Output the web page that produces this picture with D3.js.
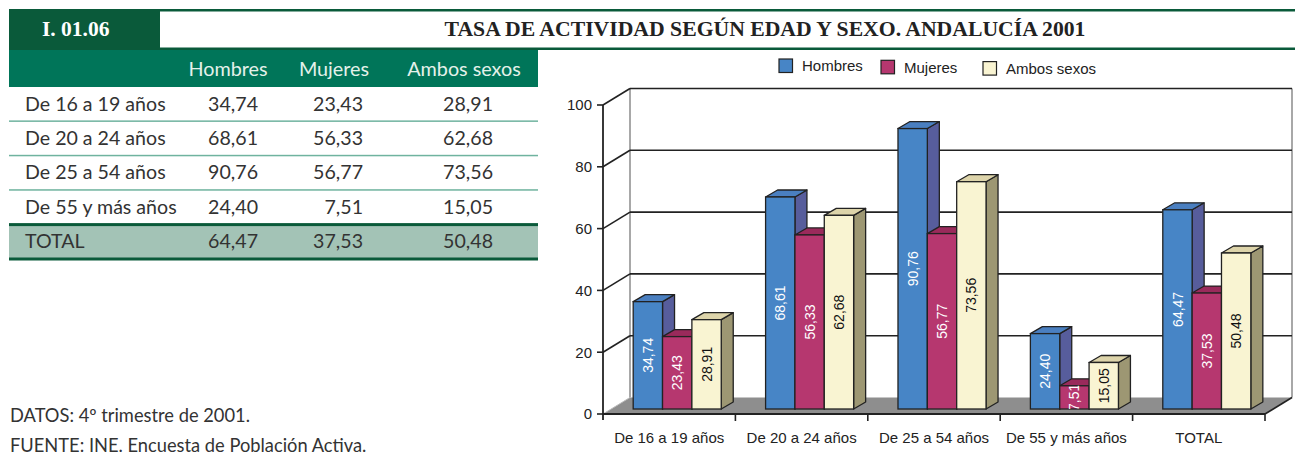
<!DOCTYPE html>
<html>
<head>
  <meta charset="utf-8">
  <title>Tasa de actividad según edad y sexo</title>
  <style>
    body { margin: 0; background: #fff; }
    svg { display: block; }
  </style>
</head>
<body>
  <div id="chart"></div>
  <script src="https://cdn.jsdelivr.net/npm/d3@7"></script>
  <script>

    let code = 'I. 01.06';
    let title = 'TASA DE ACTIVIDAD SEGÚN EDAD Y SEXO. ANDALUCÍA 2001';
    let categories = ['De 16 a 19 años', 'De 20 a 24 años', 'De 25 a 54 años', 'De 55 y más años', 'TOTAL'];
    let seriesNames = ['Hombres', 'Mujeres', 'Ambos sexos'];
    let hombres = [34.74, 68.61, 90.76, 24.40, 64.47];
    let mujeres = [23.43, 56.33, 56.77, 7.51, 37.53];
    let ambos = [28.91, 62.68, 73.56, 15.05, 50.48];
    let yTicks = [0, 20, 40, 60, 80, 100];
    let notes = ['DATOS: 4º trimestre de 2001.', 'FUENTE: INE. Encuesta de Población Activa.'];

    let series = [hombres, mujeres, ambos];

    function translate(x, y) {
      return 'translate(' + x + ', ' + y + ')';
    }

    let es = d3.formatLocale({decimal: ',', thousands: '.', grouping: [3], currency: ['', ' €']});
    let fmt = es.format('.2f');

    let darkGreen = '#0a5a3a';
    let green = '#007559';
    let sans = '"Liberation Sans", Arial, sans-serif';
    let tableFont = 'Lato, "Open Sans", sans-serif';
    let serif = '"Liberation Serif", "Times New Roman", serif';

    let svg = d3.select('#chart')
      .append('svg')
        .attr('width', 1300)
        .attr('height', 458);

    // ---- header band
    svg.append('rect')
      .attr('x', 160).attr('y', 9).attr('width', 1135).attr('height', 2.5)
      .attr('fill', darkGreen);
    svg.append('rect')
      .attr('x', 160).attr('y', 47.5).attr('width', 1135).attr('height', 2.5)
      .attr('fill', darkGreen);
    svg.append('rect')
      .attr('x', 9).attr('y', 9).attr('width', 151).attr('height', 41)
      .attr('fill', darkGreen);
    svg.append('text')
      .attr('x', 42).attr('y', 36)
      .style('font-family', serif).style('font-weight', 'bold').style('font-size', '21.5px')
      .style('fill', '#fff')
      .text(code);
    svg.append('text')
      .attr('x', 765).attr('y', 36)
      .attr('text-anchor', 'middle')
      .style('font-family', serif).style('font-weight', 'bold').style('font-size', '21.7px')
      .style('fill', '#222')
      .text(title);

    // ---- table
    let table = svg.append('g');
    let colRight = [258, 363, 493];
    let colHead = [228, 334, 464];
    let rowH = 34.4;
    let rowTop = 87;

    table.append('rect')
      .attr('x', 9).attr('y', 50).attr('width', 529).attr('height', 37)
      .attr('fill', green);
    table.selectAll('.head')
      .data(seriesNames)
      .enter()
      .append('text')
        .attr('x', (d, i) => colHead[i])
        .attr('y', 75.5)
        .attr('text-anchor', 'middle')
        .style('font-family', tableFont).style('font-size', '19.8px')
        .style('fill', '#e4f1ea')
        .text(d => d);

    let rows = categories.map((c, i) => ({name: c, vals: series.map(s => s[i])}));

    // total row background
    table.append('rect')
      .attr('x', 9).attr('y', rowTop + rowH * 4).attr('width', 529).attr('height', rowH)
      .attr('fill', '#a3c3b6');

    // separators
    [1, 2, 3].forEach(i => {
      table.append('rect')
        .attr('x', 9).attr('y', rowTop + rowH * i - 1).attr('width', 529).attr('height', 1.5)
        .attr('fill', '#6fb39f');
    });
    table.append('rect')
      .attr('x', 9).attr('y', rowTop + rowH * 4 - 1.5).attr('width', 529).attr('height', 3)
      .attr('fill', darkGreen);
    table.append('rect')
      .attr('x', 9).attr('y', rowTop + rowH * 5 - 1.5).attr('width', 529).attr('height', 3)
      .attr('fill', darkGreen);

    let rowG = table.selectAll('.row')
      .data(rows)
      .enter()
      .append('g')
        .attr('transform', (d, i) => translate(0, rowTop + rowH * i + 23.5));

    rowG.append('text')
      .attr('x', 25)
      .style('font-family', tableFont).style('font-size', '19.6px')
      .style('fill', '#333')
      .text(d => d.name);

    rowG.selectAll('.val')
      .data(d => d.vals)
      .enter()
      .append('text')
        .attr('x', (d, i) => colRight[i])
        .attr('text-anchor', 'end')
        .style('font-family', tableFont).style('font-size', '19.6px')
        .style('fill', '#333')
        .text(d => fmt(d));

    // notes
    svg.selectAll('.note')
      .data(notes)
      .enter()
      .append('text')
        .attr('x', 10)
        .attr('y', (d, i) => 422 + i * 30)
        .style('font-family', tableFont).style('font-size', '18.3px')
        .style('fill', '#333')
        .text(d => d);

    // ---- 3D bar chart
    let depthX = 27, depthY = -16.5;
    let barDX = 12, barDY = -7;
    let barLift = 5;

    let x = d3.scaleBand().domain(categories).range([603, 1265]);
    let y = d3.scaleLinear().domain([0, 100]).range([414, 105]);
    let xs = d3.scaleBand().domain(seriesNames)
      .range([x.bandwidth() * 0.228, x.bandwidth() * 0.893]);

    let frontCol = ['#4785c6', '#b6376f', '#f9f4d2'];
    let sideCol = ['#575d9c', '#8e2550', '#9d9773'];
    let topCol = ['#4a7fc0', '#9a2a5b', '#ddd4aa'];
    let labelColor = ['#fff', '#fff', '#111'];

    let chart = svg.append('g');
    let x0 = x.range()[0], x1 = x.range()[1];

    // floor
    chart.append('polygon')
      .attr('points', [[x0, y(0)], [x1, y(0)], [x1 + depthX, y(0) + depthY], [x0 + depthX, y(0) + depthY]].join(' '))
      .attr('fill', '#8e8e8e');
    chart.append('line')
      .attr('x1', x0).attr('y1', y(0)).attr('x2', x0 + depthX).attr('y2', y(0) + depthY)
      .attr('stroke', '#bbb').attr('stroke-width', 1);

    // back wall edges
    chart.append('line')
      .attr('x1', x0 + depthX).attr('x2', x0 + depthX)
      .attr('y1', y(100) + depthY).attr('y2', y(0) + depthY)
      .attr('stroke', '#a8a8a8').attr('stroke-width', 2);
    chart.append('line')
      .attr('x1', x1 + depthX).attr('x2', x1 + depthX)
      .attr('y1', y(100) + depthY).attr('y2', y(0) + depthY)
      .attr('stroke', '#a8a8a8').attr('stroke-width', 2);

    // gridlines on back wall + diagonals to axis
    chart.selectAll('.grid')
      .data(yTicks.filter(d => d > 0))
      .enter()
      .append('line')
        .attr('x1', x0 + depthX).attr('x2', x1 + depthX)
        .attr('y1', d => y(d) + depthY).attr('y2', d => y(d) + depthY)
        .attr('stroke', '#222').attr('stroke-width', 1.6);
    chart.selectAll('.diag')
      .data(yTicks.filter(d => d > 0))
      .enter()
      .append('line')
        .attr('x1', x0).attr('y1', d => y(d))
        .attr('x2', x0 + depthX).attr('y2', d => y(d) + depthY)
        .attr('stroke', '#222').attr('stroke-width', 1.6);

    // y axis
    chart.append('line')
      .attr('x1', x0).attr('x2', x0).attr('y1', y(100)).attr('y2', y(0) + 6)
      .attr('stroke', '#222').attr('stroke-width', 1.8);
    chart.selectAll('.ytick')
      .data(yTicks)
      .enter()
      .append('line')
        .attr('x1', x0 - 6).attr('x2', x0)
        .attr('y1', d => y(d)).attr('y2', d => y(d))
        .attr('stroke', '#222').attr('stroke-width', 1.6);
    chart.selectAll('.ylab')
      .data(yTicks)
      .enter()
      .append('text')
        .attr('x', x0 - 11)
        .attr('y', d => y(d))
        .attr('dy', '0.36em')
        .attr('text-anchor', 'end')
        .style('font-family', sans).style('font-size', '15px')
        .style('fill', '#222')
        .text(d => d);

    // bars
    let clipN = 0;
    categories.forEach((c, ci) => {
      let g = chart.append('g').attr('transform', translate(x(c), 0));
      series.forEach((s, si) => {
        let v = s[ci];
        let bx = xs(seriesNames[si]);
        let bw = xs.bandwidth();
        let by = y(v) - barLift;
        let bb = y(0) - barLift;
        let bar = g.append('g');
        bar.append('polygon')
          .attr('points', [[bx + bw, bb], [bx + bw + barDX, bb + barDY], [bx + bw + barDX, by + barDY], [bx + bw, by]].join(' '))
          .attr('fill', sideCol[si]).attr('stroke', '#222').attr('stroke-width', 1.3)
          .attr('stroke-linejoin', 'round');
        bar.append('polygon')
          .attr('points', [[bx, by], [bx + barDX, by + barDY], [bx + bw + barDX, by + barDY], [bx + bw, by]].join(' '))
          .attr('fill', topCol[si]).attr('stroke', '#222').attr('stroke-width', 1.3)
          .attr('stroke-linejoin', 'round');
        bar.append('rect')
          .attr('x', bx).attr('y', by).attr('width', bw).attr('height', bb - by)
          .attr('fill', frontCol[si]).attr('stroke', '#222').attr('stroke-width', 1.3);

        let id = 'clip' + (clipN++);
        bar.append('clipPath').attr('id', id)
          .append('rect')
            .attr('x', bx).attr('y', by).attr('width', bw).attr('height', bb - by);
        bar.append('g')
          .attr('clip-path', 'url(#' + id + ')')
          .append('text')
            .attr('transform', translate(bx + bw / 2, (by + bb) / 2) + ' rotate(-90)')
            .attr('text-anchor', 'middle')
            .attr('dy', '0.36em')
            .style('font-family', sans).style('font-size', '14px')
            .style('fill', labelColor[si])
            .text(fmt(v));
      });
    });

    // front x axis line and right floor edge
    chart.append('line')
      .attr('x1', x0).attr('x2', x1).attr('y1', y(0)).attr('y2', y(0))
      .attr('stroke', '#222').attr('stroke-width', 1.8);
    chart.append('line')
      .attr('x1', x1).attr('y1', y(0)).attr('x2', x1 + depthX).attr('y2', y(0) + depthY)
      .attr('stroke', '#222').attr('stroke-width', 1.6);

    let xg = chart.append('g').attr('transform', translate(0, y(0)));
    xg.selectAll('.xtick')
      .data(categories)
      .enter()
      .append('line')
        .attr('x1', d => x(d) + x.bandwidth()).attr('x2', d => x(d) + x.bandwidth())
        .attr('y1', 0).attr('y2', 7)
        .attr('stroke', '#222').attr('stroke-width', 1.6);
    xg.selectAll('.xlab')
      .data(categories)
      .enter()
      .append('text')
        .attr('x', d => x(d) + x.bandwidth() / 2)
        .attr('y', 29)
        .attr('text-anchor', 'middle')
        .style('font-family', sans).style('font-size', '15px')
        .style('fill', '#222')
        .text(d => d);

    // legend
    let legX = [779, 881, 983];
    let legend = svg.selectAll('.legend')
      .data(seriesNames)
      .enter()
      .append('g')
        .attr('transform', (d, i) => translate(legX[i], 59 + i * 1.3));
    legend.append('rect')
      .attr('width', 13.5).attr('height', 13.5)
      .attr('fill', (d, i) => frontCol[i])
      .attr('stroke', '#222').attr('stroke-width', 1.2);
    legend.append('text')
      .attr('x', 23).attr('y', 7)
      .attr('dy', '0.36em')
      .style('font-family', sans).style('font-size', '15px')
      .style('fill', '#222')
      .text(d => d);

  </script>
</body>
</html>
